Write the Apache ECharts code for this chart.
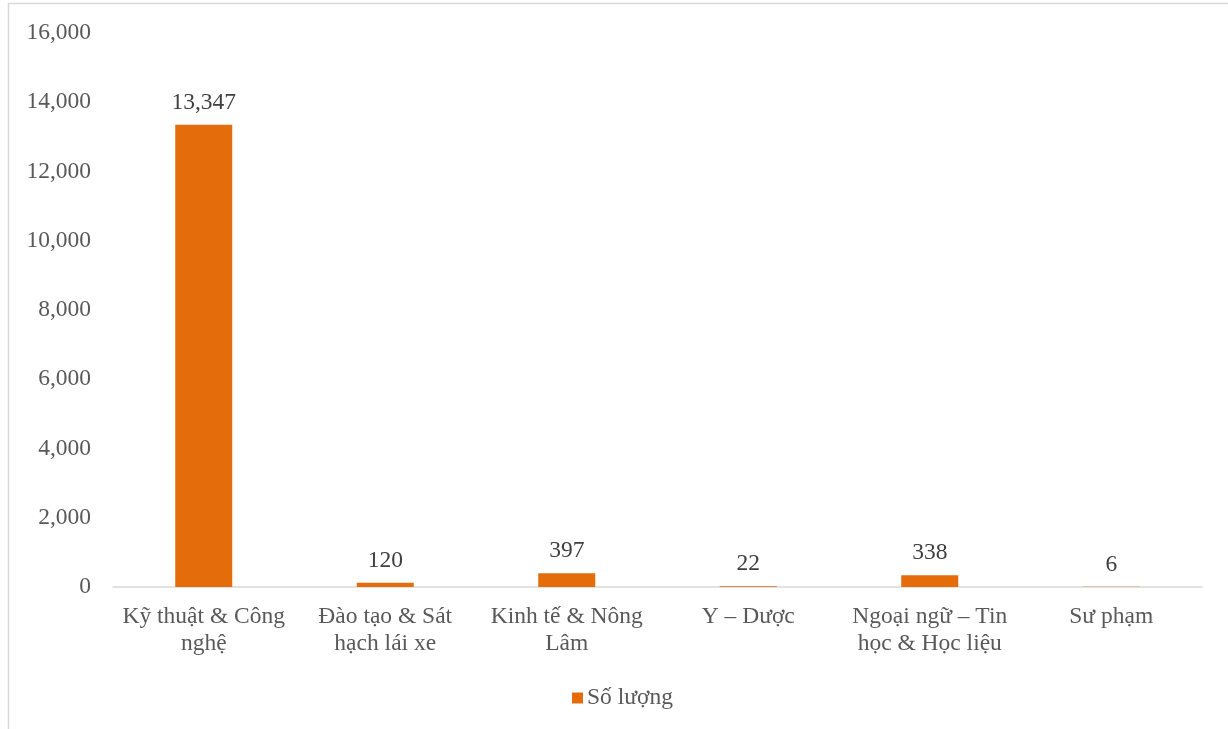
<!DOCTYPE html>
<html>
<head>
<meta charset="utf-8">
<script src="https://cdn.jsdelivr.net/npm/echarts@6/dist/echarts.min.js"></script>
<style>
html,body{margin:0;padding:0;background:#fff;}
#main{width:1228px;height:729px;}
</style>
</head>
<body>
<div id="main"></div>
<script>
var categories = ["Kỹ thuật & Công nghệ", "Đào tạo & Sát hạch lái xe", "Kinh tế & Nông Lâm", "Y – Dược", "Ngoại ngữ – Tin học & Học liệu", "Sư phạm"];
var seriesName = "Số lượng";
var values = [13347, 120, 397, 22, 338, 6];

var FONT = "'Liberation Serif', 'Times New Roman', serif";
var FS = 23.5;

var ctx = document.createElement('canvas').getContext('2d');
ctx.font = FS + "px " + FONT;
function wrap(text, maxW) {
  var words = text.split(' '), lines = [], cur = '';
  words.forEach(function (w) {
    var t = cur ? cur + ' ' + w : w;
    if (cur && ctx.measureText(t).width > maxW) { lines.push(cur); cur = w; }
    else { cur = t; }
  });
  if (cur) lines.push(cur);
  return lines.join('\n');
}

var chart = echarts.init(document.getElementById('main'));
chart.setOption({
  animation: false,
  backgroundColor: '#fff',
  textStyle: { fontFamily: FONT },
  grid: { left: 113, right: 26, top: 33, bottom: 142, containLabel: false },
  graphic: [
    { type: 'line', shape: { x1: 8, y1: 3.5, x2: 1228, y2: 3.5 }, style: { stroke: '#D9D9D9', lineWidth: 1.5 } },
    { type: 'line', shape: { x1: 8.5, y1: 3, x2: 8.5, y2: 729 }, style: { stroke: '#D9D9D9', lineWidth: 1.5 } }
  ],
  legend: {
    data: [seriesName],
    left: 567, top: 681,
    icon: 'rect', itemWidth: 11, itemHeight: 11, itemGap: 6,
    textStyle: { fontFamily: FONT, fontSize: FS, color: '#595959', padding: [0, 0, 0, -1] }
  },
  xAxis: {
    type: 'category',
    data: categories,
    axisLine: { lineStyle: { color: '#D9D9D9', width: 1.5 } },
    axisTick: { show: false },
    axisLabel: {
      interval: 0, margin: 16, color: '#595959', fontFamily: FONT, fontSize: FS,
      lineHeight: 27, hideOverlap: false,
      formatter: function (v) { return wrap(v, 178); }
    }
  },
  yAxis: {
    type: 'value', min: 0, max: 16000, interval: 2000,
    splitLine: { show: false },
    axisLine: { show: false },
    axisTick: { show: false },
    axisLabel: {
      margin: 22, color: '#595959', fontFamily: FONT, fontSize: FS,
      formatter: function (v) { return v.toLocaleString('en-US'); }
    }
  },
  series: [{
    name: seriesName,
    type: 'bar',
    data: values,
    barWidth: 57,
    itemStyle: { color: '#E46C0A' },
    label: {
      show: true, position: 'top', distance: 10,
      color: '#404040', fontFamily: FONT, fontSize: FS,
      formatter: function (p) { return p.value.toLocaleString('en-US'); }
    }
  }]
});
</script>
</body>
</html>
